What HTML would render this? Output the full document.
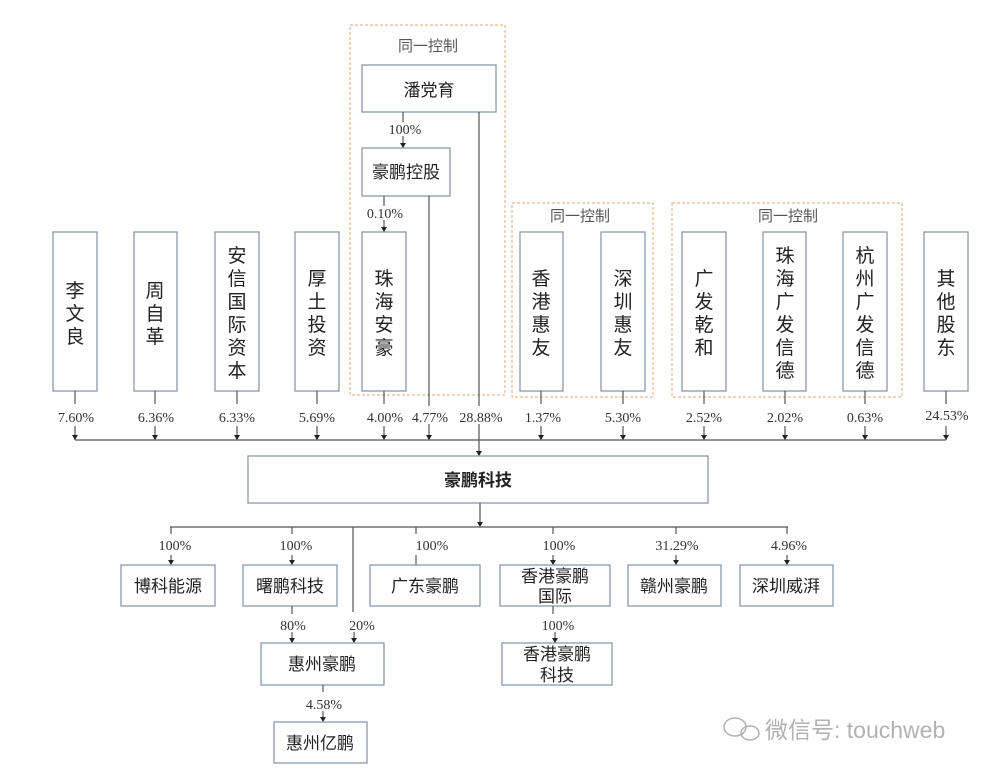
<!DOCTYPE html>
<html><head><meta charset="utf-8"><style>
html,body{margin:0;padding:0;background:#fff;}
svg{display:block;}
.b{fill:#fff;stroke:#8a98ad;stroke-width:1.3;}
.d{fill:none;stroke:#e0a77a;stroke-width:1;stroke-dasharray:3,2;}
.l{stroke:#555;stroke-width:1.2;fill:none;}
.p{font-family:"Liberation Serif","Noto Serif CJK SC",serif;font-size:14px;fill:#333;text-anchor:middle;}
.v{font-family:"Liberation Sans","Noto Sans CJK SC",sans-serif;font-size:19px;fill:#222;text-anchor:middle;}
.h{font-family:"Liberation Sans","Noto Sans CJK SC",sans-serif;font-size:17px;fill:#222;text-anchor:middle;}
.g{font-family:"Liberation Sans","Noto Sans CJK SC",sans-serif;font-size:15px;fill:#555;text-anchor:middle;}
</style></head><body>
<svg width="1000" height="772" viewBox="0 0 1000 772" xmlns="http://www.w3.org/2000/svg">
<defs><marker id="a" markerWidth="6" markerHeight="6" refX="5" refY="3" orient="auto" markerUnits="userSpaceOnUse"><path d="M0,0 L5,3 L0,6 z" fill="#222"/></marker></defs>
<!-- dashed groups -->
<rect class="d" x="350" y="25" width="155" height="370"/>
<rect class="d" x="512" y="203" width="141" height="194"/>
<rect class="d" x="672" y="203" width="230" height="194"/>
<text class="g" x="428" y="51">同一控制</text>
<text class="g" x="580" y="221">同一控制</text>
<text class="g" x="788" y="221">同一控制</text>
<!-- top chain -->
<rect class="b" x="362" y="65" width="134" height="47"/>
<text class="h" x="429" y="96">潘党育</text>
<line class="l" x1="403" y1="112" x2="403" y2="148" marker-end="url(#a)"/>
<rect fill="#fff" x="385" y="122" width="38" height="14"/>
<text class="p" x="405" y="134">100%</text>
<rect class="b" x="362" y="148" width="88" height="48"/>
<text class="h" x="406" y="178">豪鹏控股</text>
<line class="l" x1="384" y1="196" x2="384" y2="232" marker-end="url(#a)"/>
<rect fill="#fff" x="364" y="206" width="40" height="14"/>
<text class="p" x="385" y="218">0.10%</text>
<line class="l" x1="429" y1="196" x2="429" y2="440" marker-end="url(#a)"/>
<line class="l" x1="479" y1="112" x2="479" y2="456" marker-end="url(#a)"/>
<!-- vertical boxes -->
<g>
<rect class="b" x="53" y="232" width="44" height="159"/>
<text class="v" x="75" y="297">李</text><text class="v" x="75" y="320">文</text><text class="v" x="75" y="343">良</text>
<rect class="b" x="134" y="232" width="43" height="159"/>
<text class="v" x="155" y="297">周</text><text class="v" x="155" y="320">自</text><text class="v" x="155" y="343">革</text>
<rect class="b" x="215" y="232" width="44" height="159"/>
<text class="v" x="237" y="262">安</text><text class="v" x="237" y="285">信</text><text class="v" x="237" y="308">国</text><text class="v" x="237" y="331">际</text><text class="v" x="237" y="354">资</text><text class="v" x="237" y="377">本</text>
<rect class="b" x="295" y="232" width="44" height="159"/>
<text class="v" x="317" y="285">厚</text><text class="v" x="317" y="308">土</text><text class="v" x="317" y="331">投</text><text class="v" x="317" y="354">资</text>
<rect class="b" x="362" y="232" width="44" height="159"/>
<text class="v" x="384" y="285">珠</text><text class="v" x="384" y="308">海</text><text class="v" x="384" y="331">安</text><text class="v" x="384" y="354">豪</text>
<rect class="b" x="520" y="232" width="43" height="159"/>
<text class="v" x="541" y="285">香</text><text class="v" x="541" y="308">港</text><text class="v" x="541" y="331">惠</text><text class="v" x="541" y="354">友</text>
<rect class="b" x="601" y="232" width="44" height="159"/>
<text class="v" x="623" y="285">深</text><text class="v" x="623" y="308">圳</text><text class="v" x="623" y="331">惠</text><text class="v" x="623" y="354">友</text>
<rect class="b" x="682" y="232" width="44" height="159"/>
<text class="v" x="704" y="285">广</text><text class="v" x="704" y="308">发</text><text class="v" x="704" y="331">乾</text><text class="v" x="704" y="354">和</text>
<rect class="b" x="763" y="232" width="43" height="159"/>
<text class="v" x="785" y="262">珠</text><text class="v" x="785" y="285">海</text><text class="v" x="785" y="308">广</text><text class="v" x="785" y="331">发</text><text class="v" x="785" y="354">信</text><text class="v" x="785" y="377">德</text>
<rect class="b" x="843" y="232" width="44" height="159"/>
<text class="v" x="865" y="262">杭</text><text class="v" x="865" y="285">州</text><text class="v" x="865" y="308">广</text><text class="v" x="865" y="331">发</text><text class="v" x="865" y="354">信</text><text class="v" x="865" y="377">德</text>
<rect class="b" x="924" y="232" width="44" height="159"/>
<text class="v" x="946" y="285">其</text><text class="v" x="946" y="308">他</text><text class="v" x="946" y="331">股</text><text class="v" x="946" y="354">东</text>
</g>
<!-- stubs and arrows -->
<g>
<line class="l" x1="75" y1="391" x2="75" y2="404"/><line class="l" x1="75" y1="426" x2="75" y2="440" marker-end="url(#a)"/>
<line class="l" x1="155" y1="391" x2="155" y2="404"/><line class="l" x1="155" y1="426" x2="155" y2="440" marker-end="url(#a)"/>
<line class="l" x1="237" y1="391" x2="237" y2="404"/><line class="l" x1="237" y1="426" x2="237" y2="440" marker-end="url(#a)"/>
<line class="l" x1="317" y1="391" x2="317" y2="404"/><line class="l" x1="317" y1="426" x2="317" y2="440" marker-end="url(#a)"/>
<line class="l" x1="384" y1="391" x2="384" y2="404"/><line class="l" x1="384" y1="426" x2="384" y2="440" marker-end="url(#a)"/>
<line class="l" x1="541" y1="391" x2="541" y2="404"/><line class="l" x1="541" y1="426" x2="541" y2="440" marker-end="url(#a)"/>
<line class="l" x1="623" y1="391" x2="623" y2="404"/><line class="l" x1="623" y1="426" x2="623" y2="440" marker-end="url(#a)"/>
<line class="l" x1="704" y1="391" x2="704" y2="404"/><line class="l" x1="704" y1="426" x2="704" y2="440" marker-end="url(#a)"/>
<line class="l" x1="785" y1="391" x2="785" y2="404"/><line class="l" x1="785" y1="426" x2="785" y2="440" marker-end="url(#a)"/>
<line class="l" x1="865" y1="391" x2="865" y2="404"/><line class="l" x1="865" y1="426" x2="865" y2="440" marker-end="url(#a)"/>
<line class="l" x1="946" y1="391" x2="946" y2="404"/><line class="l" x1="946" y1="426" x2="946" y2="440" marker-end="url(#a)"/>
<line class="l" x1="75" y1="440" x2="946" y2="440"/>
</g>
<g>
<rect fill="#fff" x="456" y="406" width="48" height="18"/><rect fill="#fff" x="408" y="406" width="44" height="18"/>
<text class="p" x="76" y="422">7.60%</text><text class="p" x="156" y="422">6.36%</text><text class="p" x="237" y="422">6.33%</text>
<text class="p" x="317" y="422">5.69%</text><text class="p" x="385" y="422">4.00%</text><text class="p" x="430" y="422">4.77%</text>
<text class="p" x="481" y="422">28.88%</text><text class="p" x="543" y="422">1.37%</text><text class="p" x="623" y="422">5.30%</text>
<text class="p" x="704" y="422">2.52%</text><text class="p" x="785" y="422">2.02%</text><text class="p" x="865" y="422">0.63%</text>
<text class="p" x="947" y="420">24.53%</text>
</g>
<!-- main -->
<rect class="b" x="248" y="456" width="460" height="47"/>
<text class="h" x="478" y="486" font-weight="bold">豪鹏科技</text>
<line class="l" x1="480" y1="503" x2="480" y2="527" marker-end="url(#a)"/>
<line class="l" x1="170" y1="527" x2="788" y2="527"/>
<!-- children -->
<g>
<line class="l" x1="171" y1="527" x2="171" y2="534"/><line class="l" x1="171" y1="555" x2="171" y2="565" marker-end="url(#a)"/>
<line class="l" x1="292" y1="527" x2="292" y2="534"/><line class="l" x1="292" y1="555" x2="292" y2="565" marker-end="url(#a)"/>
<line class="l" x1="416" y1="527" x2="416" y2="534"/><line class="l" x1="416" y1="555" x2="416" y2="565"/>
<line class="l" x1="553" y1="527" x2="553" y2="534"/><line class="l" x1="553" y1="555" x2="553" y2="565" marker-end="url(#a)"/>
<line class="l" x1="676" y1="527" x2="676" y2="534"/><line class="l" x1="676" y1="555" x2="676" y2="565" marker-end="url(#a)"/>
<line class="l" x1="787" y1="527" x2="787" y2="534"/><line class="l" x1="787" y1="555" x2="787" y2="565" marker-end="url(#a)"/>
<line class="l" x1="353" y1="527" x2="353" y2="612"/>
<text class="p" x="175" y="550">100%</text><text class="p" x="296" y="550">100%</text><text class="p" x="432" y="550">100%</text>
<text class="p" x="559" y="550">100%</text><text class="p" x="677" y="550">31.29%</text><text class="p" x="789" y="550">4.96%</text>
<rect class="b" x="121" y="565" width="94" height="41"/><text class="h" x="168" y="592">博科能源</text>
<rect class="b" x="243" y="565" width="94" height="41"/><text class="h" x="290" y="592">曙鹏科技</text>
<rect class="b" x="370" y="565" width="110" height="41"/><text class="h" x="425" y="592">广东豪鹏</text>
<rect class="b" x="500" y="565" width="110" height="41"/><text class="h" x="555" y="582">香港豪鹏</text><text class="h" x="555" y="602">国际</text>
<rect class="b" x="628" y="565" width="93" height="41"/><text class="h" x="674" y="592">赣州豪鹏</text>
<rect class="b" x="740" y="565" width="93" height="41"/><text class="h" x="786" y="592">深圳威湃</text>
</g>
<!-- lower -->
<line class="l" x1="292" y1="606" x2="292" y2="614"/><line class="l" x1="292" y1="632" x2="292" y2="643" marker-end="url(#a)"/>
<line class="l" x1="354" y1="632" x2="354" y2="643" marker-end="url(#a)"/>
<text class="p" x="293" y="630">80%</text><text class="p" x="362" y="630">20%</text>
<rect class="b" x="261" y="643" width="123" height="42"/><text class="h" x="322" y="670">惠州豪鹏</text>
<line class="l" x1="323" y1="685" x2="323" y2="692"/><line class="l" x1="323" y1="711" x2="323" y2="722" marker-end="url(#a)"/>
<text class="p" x="324" y="709">4.58%</text>
<rect class="b" x="274" y="722" width="93" height="41"/><text class="h" x="320" y="749">惠州亿鹏</text>
<line class="l" x1="553" y1="606" x2="553" y2="614"/><line class="l" x1="555" y1="632" x2="555" y2="643" marker-end="url(#a)"/>
<text class="p" x="558" y="630">100%</text>
<rect class="b" x="502" y="643" width="110" height="42"/><text class="h" x="557" y="660">香港豪鹏</text><text class="h" x="557" y="681">科技</text>
<!-- watermark -->
<g opacity="0.75">
<ellipse cx="735" cy="727" rx="11" ry="9" fill="none" stroke="#999" stroke-width="1.5"/>
<ellipse cx="750" cy="733" rx="9" ry="7" fill="none" stroke="#999" stroke-width="1.5"/>
<text x="765" y="738" font-family="Liberation Sans,Noto Sans CJK SC,sans-serif" font-size="23" fill="#999">微信号: touchweb</text>
</g>
</svg>
</body></html>
